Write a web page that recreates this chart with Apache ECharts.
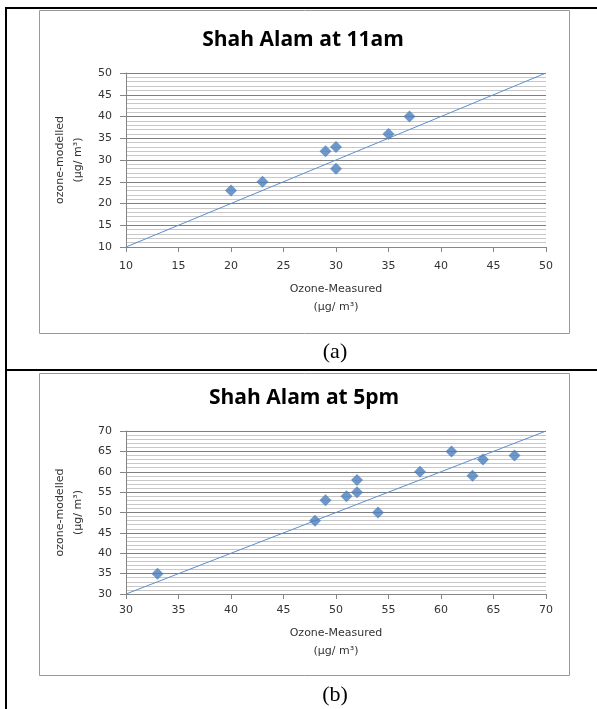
<!DOCTYPE html>
<html>
<head>
<meta charset="utf-8">
<script src="https://cdn.jsdelivr.net/npm/echarts@6/dist/echarts.min.js"></script>
<style>
html,body{margin:0;padding:0;background:#fff;}
#chart{width:597px;height:709px;}
</style>
</head>
<body>
<div id="chart"></div>
<script>
// panel (a) Shah Alam at 11am
var measuredA = [20, 23, 29, 30, 30, 35, 37]
var modelledA = [23, 25, 32, 33, 28, 36, 40]
var lineA = [10, 50]
var ticksA = [10, 15, 20, 25, 30, 35, 40, 45, 50]

// panel (b) Shah Alam at 5pm
var measuredB = [33, 48, 49, 51, 52, 52, 54, 58, 61, 63, 64, 67]
var modelledB = [35, 48, 53, 54, 58, 55, 50, 60, 65, 59, 63, 64]
var lineB = [30, 70]
var ticksB = [30, 35, 40, 45, 50, 55, 60, 65, 70]

var titles = ['Shah Alam at 11am', 'Shah Alam at 5pm']
var xName = 'Ozone-Measured\n(µg/ m³)'
var yName = 'ozone-modelled\n(µg/ m³)'

function pairs(xs, ys) {
  return xs.map(function (x, i) { return [x, ys[i]] })
}

var labelFont = { fontFamily: 'DejaVu Sans', fontSize: 11, color: '#333' }
var nameFont = { fontFamily: 'DejaVu Sans', fontSize: 11, color: '#333', lineHeight: 18 }
var axisGray = '#868686'

function xAxis(idx, ticks, labelMargin, nameGap) {
  return {
    type: 'value', gridIndex: idx,
    min: ticks[0], max: ticks[ticks.length - 1], interval: 5,
    name: xName, nameLocation: 'middle', nameGap: nameGap,
    nameTextStyle: nameFont,
    axisLine: { show: true, lineStyle: { color: axisGray, width: 1 } },
    axisTick: { show: true, length: 5, lineStyle: { color: axisGray } },
    axisLabel: Object.assign({ margin: labelMargin }, labelFont),
    splitLine: { show: false }
  }
}

function yAxis(idx, ticks) {
  return {
    type: 'value', gridIndex: idx,
    min: ticks[0], max: ticks[ticks.length - 1], interval: 5,
    name: yName, nameLocation: 'middle', nameRotate: 90, nameGap: 32,
    nameTextStyle: nameFont,
    axisLine: { show: true, lineStyle: { color: axisGray, width: 1 } },
    axisTick: { show: true, length: 6, lineStyle: { color: axisGray } },
    axisLabel: Object.assign({ margin: 14 }, labelFont),
    splitLine: { show: true, lineStyle: { color: '#7f7f7f', width: 1 } },
    minorTick: { show: false, splitNumber: 5 },
    minorSplitLine: { show: true, lineStyle: { color: '#c8c8c8', width: 1 } }
  }
}

function scatter(idx, xs, ys) {
  return {
    type: 'scatter', xAxisIndex: idx, yAxisIndex: idx,
    symbol: 'diamond', symbolSize: 12,
    itemStyle: { color: '#4a7ebb' },
    data: pairs(xs, ys), z: 3
  }
}

function refLine(idx, ends) {
  return {
    type: 'line', xAxisIndex: idx, yAxisIndex: idx,
    symbol: 'none', silent: true,
    lineStyle: { color: '#5b8fd0', width: 1 },
    data: pairs(ends, ends), z: 2
  }
}

function txt(x, y, text, font) {
  return {
    type: 'text', x: x, y: y,
    style: { text: text, font: font, fill: '#000', align: 'center', verticalAlign: 'middle',
      textAlign: 'center', textVerticalAlign: 'middle' }
  }
}

var mychart = echarts.init(document.getElementById('chart'))
var option = {
  animation: false,
  grid: [
    { left: 126, top: 73, width: 420, height: 174 },
    { left: 126, top: 431, width: 420, height: 163 }
  ],
  xAxis: [xAxis(0, ticksA, 14, 33), xAxis(1, ticksB, 11, 30)],
  yAxis: [yAxis(0, ticksA), yAxis(1, ticksB)],
  series: [
    refLine(0, lineA), scatter(0, measuredA, modelledA),
    refLine(1, lineB), scatter(1, measuredB, modelledB)
  ],
  graphic: [
    // table borders
    { type: 'rect', shape: { x: 5, y: 7, width: 2, height: 702 }, style: { fill: '#000' } },
    { type: 'rect', shape: { x: 5, y: 7, width: 592, height: 2 }, style: { fill: '#000' } },
    { type: 'rect', shape: { x: 5, y: 369, width: 592, height: 2 }, style: { fill: '#000' } },
    // chart areas
    { type: 'rect', z: -1, shape: { x: 39.5, y: 10.5, width: 530, height: 323 },
      style: { fill: '#fff', stroke: '#999', lineWidth: 1 } },
    { type: 'rect', z: -1, shape: { x: 39.5, y: 373.5, width: 530, height: 302 },
      style: { fill: '#fff', stroke: '#999', lineWidth: 1 } },
    txt(303, 40, titles[0], 'bold 21px "Open Sans"'),
    txt(304, 398, titles[1], 'bold 21px "Open Sans"'),
    txt(335, 352, '(a)', '22px "Liberation Serif"'),
    txt(335, 695, '(b)', '22px "Liberation Serif"')
  ]
}
mychart.setOption(option, true)
</script>
</body>
</html>
